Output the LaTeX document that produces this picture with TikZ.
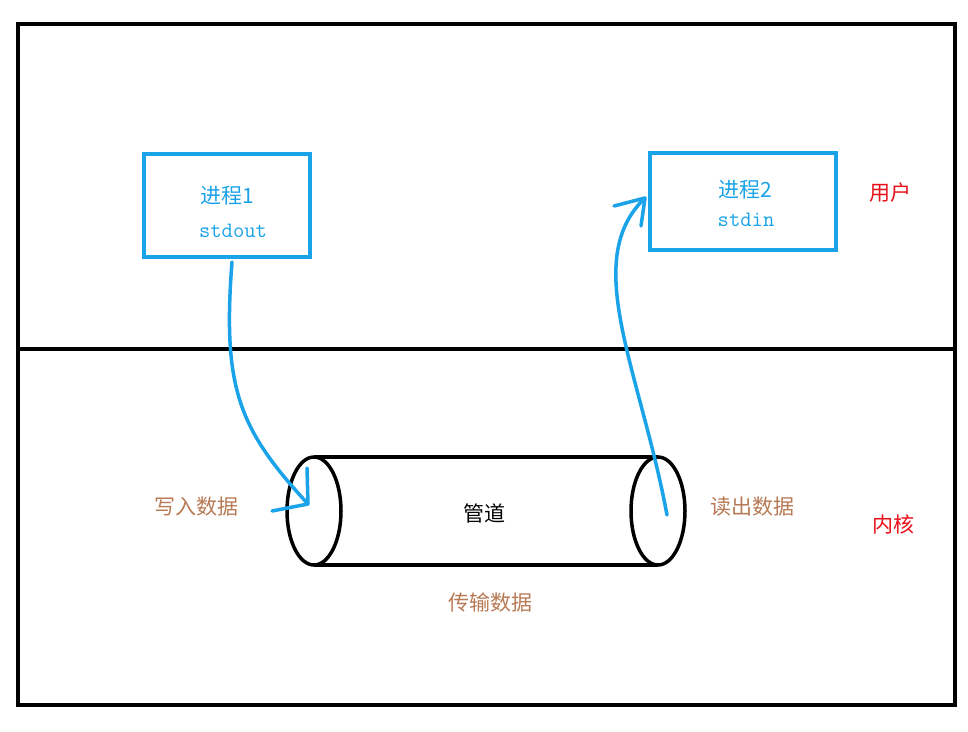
\documentclass[tikz,border=0pt]{standalone}
\usepackage{fontspec}
\newfontfamily\cjk{Noto Sans CJK SC}
\definecolor{cy}{HTML}{1AA3E8}
\definecolor{br}{HTML}{B87A55}
\definecolor{rd}{HTML}{E8101A}
\begin{document}
\begin{tikzpicture}[x=1pt,y=-1pt,
  frame/.style={line width=4pt,black},
  pbox/.style={draw=cy,line width=4pt},
  lbl/.style={font=\cjk\fontsize{21}{24}\selectfont},
  mono/.style={text=cy,font=\ttfamily\fontsize{22}{24}\selectfont},
  fl/.style={draw=cy,line width=3.5pt,line cap=round,line join=round}]
\useasboundingbox (0,0) rectangle (968,731);
\fill[white] (0,0) rectangle (968,731);
\draw[frame] (18,24) rectangle (955,705);
\draw[frame] (18,349) -- (955,349);
\draw[pbox] (144,154) rectangle (310,257);
\draw[pbox] (650,153) rectangle (836,250);
\node[lbl,text=cy] (p1) at (227,196) {进程1};
\node[mono] (s1) at (233,231) {stdout};
\node[lbl,text=cy] (p2) at (745,190) {进程2};
\node[mono] (s2) at (746,220) {stdin};
\node[lbl,text=rd] (u) at (890,193) {用户};
\node[lbl,text=rd] (k) at (893,524) {内核};
% pipe
\draw[line width=3.5pt] (314,457) -- (658,457);
\draw[line width=3.5pt] (314,565) -- (658,565);
\draw[line width=3.5pt,fill=white] (314,511) ellipse [x radius=27,y radius=54];
\draw[line width=3.5pt,fill=white] (658,511) ellipse [x radius=27,y radius=54];
\node[lbl] (g) at (484,513) {管道};
\node[lbl,text=br] (w) at (196,507) {写入数据};
\node[lbl,text=br] (r) at (752,507) {读出数据};
\node[lbl,text=br] (t) at (490,603) {传输数据};
% arrows
\coordinate (a1) at (232,262);
\coordinate (a2) at (308,504);
\draw[fl] (a1) .. controls (222,390) and (240,430) .. (a2);
\draw[fl] (307,468) -- (a2) -- (272,511);
\coordinate (b1) at (667,515);
\coordinate (b2) at (645,198);
\draw[fl] (b1) .. controls (640,370) and (580,260) .. (b2);
\draw[fl] (614,206) -- (b2) -- (641,226);
\end{tikzpicture}
\end{document}
